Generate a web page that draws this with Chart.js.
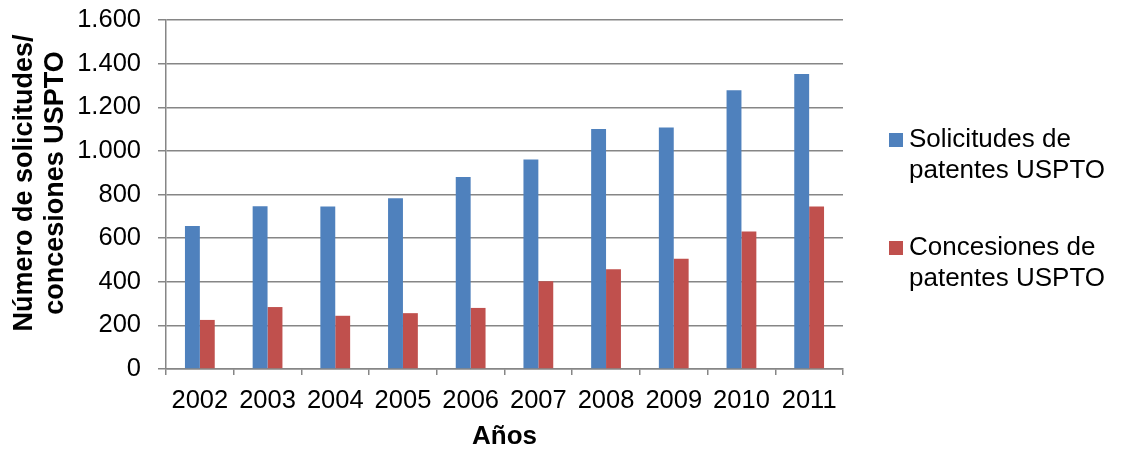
<!DOCTYPE html>
<html>
<head>
<meta charset="utf-8">
<script src="https://cdn.jsdelivr.net/npm/chart.js@4"></script>
<style>
  html, body { margin: 0; padding: 0; background: #fff; }
  #wrap { width: 1121px; height: 452px; }
</style>
</head>
<body>
<div id="wrap"><canvas id="chart" width="1121" height="452"></canvas></div>
<script>
const years = ['2002', '2003', '2004', '2005', '2006', '2007', '2008', '2009', '2010', '2011'];
const solicitudes = [656, 746, 745, 783, 880, 961, 1100, 1107, 1278, 1352];
const concesiones = [225, 284, 244, 256, 280, 402, 457, 506, 630, 745];
const seriesNames = [['Solicitudes de', 'patentes USPTO'], ['Concesiones de', 'patentes USPTO']];
const seriesColors = ['#4F81BD', '#C0504D'];
const yTitle = ['Número de solicitudes/', 'concesiones USPTO'];

const FONT = '"Liberation Sans", Arial, sans-serif';
const GRID = '#868686';

// legend and y title drawn by hand so they wrap and sit like the original
const sideText = {
    id: 'sideText',
    afterDraw(chart){
        const ctx = chart.ctx;
        const tops = [133, 241];
        ctx.save();
        ctx.font = '26px ' + FONT;
        ctx.textBaseline = 'middle';
        ctx.textAlign = 'left';
        tops.forEach((top, i) => {
            ctx.fillStyle = seriesColors[i];
            ctx.fillRect(889, top, 14, 14);
            ctx.fillStyle = '#000';
            seriesNames[i].forEach((line, j) => {
                ctx.fillText(line, 909, top + 7 + j * 31);
            });
        });
        ctx.restore();

        ctx.save();
        ctx.translate(0, 183);
        ctx.rotate(-Math.PI / 2);
        ctx.font = 'bold 27px ' + FONT;
        ctx.textAlign = 'center';
        ctx.textBaseline = 'middle';
        ctx.fillStyle = '#000';
        ctx.fillText(yTitle[0], 0, 25);
        ctx.fillText(yTitle[1], 0, 56);
        ctx.restore();
    }
};

new Chart(document.getElementById('chart'), {
    type: 'bar',
    data: {
        labels: years,
        datasets: [{
            label: seriesNames[0].join(' '),
            data: solicitudes,
            backgroundColor: seriesColors[0],
            categoryPercentage: 0.44,
            barPercentage: 1
        }, {
            label: seriesNames[1].join(' '),
            data: concesiones,
            backgroundColor: seriesColors[1],
            categoryPercentage: 0.44,
            barPercentage: 1
        }]
    },
    options: {
        responsive: false,
        animation: false,
        layout: {
            autoPadding: false,
            padding: { left: 0, right: 278, top: 20, bottom: 0 }
        },
        scales: {
            x: {
                afterFit: (scale) => {
                    scale.height = 83;
                    scale.paddingLeft = 0;
                    scale.paddingRight = 0;
                },
                border: { color: GRID, width: 1.5 },
                grid: {
                    offset: true,
                    drawOnChartArea: false,
                    drawTicks: true,
                    tickLength: 6,
                    color: GRID,
                    lineWidth: 1.5
                },
                ticks: {
                    color: '#000',
                    padding: 11,
                    maxRotation: 0,
                    font: { family: FONT, size: 25.5 }
                },
                title: {
                    display: true,
                    text: 'Años',
                    color: '#000',
                    padding: { top: 3, bottom: 0 },
                    font: { family: FONT, size: 26, weight: 'bold' }
                }
            },
            y: {
                min: 0,
                max: 1600,
                afterFit: (scale) => {
                    scale.width = 166;
                    scale.paddingTop = 0;
                    scale.paddingBottom = 0;
                },
                border: { color: GRID, width: 1.5 },
                grid: {
                    color: GRID,
                    lineWidth: 1.5,
                    tickLength: 8
                },
                ticks: {
                    stepSize: 200,
                    color: '#000',
                    padding: 17,
                    font: { family: FONT, size: 25.5 },
                    callback: (v) => v.toLocaleString('de-DE')
                }
            }
        },
        plugins: {
            legend: { display: false },
            tooltip: { enabled: false }
        }
    },
    plugins: [sideText]
});
</script>
</body>
</html>
